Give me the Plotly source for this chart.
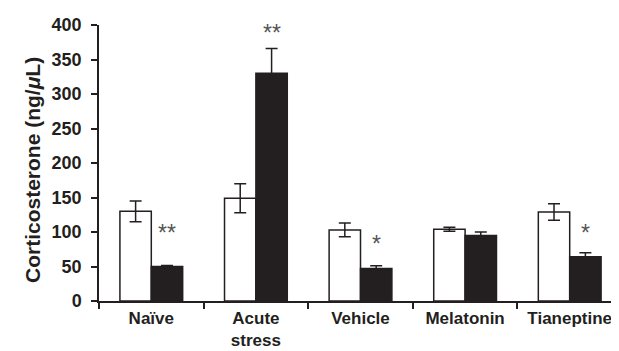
import plotly.graph_objects as go

categories = ["Naïve", "Acute<br>stress", "Vehicle", "Melatonin", "Tianeptine"]
control_vals = [130, 149, 103, 104, 129]
control_err = [15, 21, 10, 3, 12]
treated_vals = [50, 330, 47, 95, 64]
treated_err = [1.5, 36, 4, 5, 6]
sig_labels = ["**", "**", "*", "", "*"]
sig_y = [98, 388, 82, 0, 98]

FONT = "Liberation Sans, Arial, sans-serif"
INK = "#231f20"

fig = go.Figure()
fig.add_trace(go.Bar(
    x=categories, y=control_vals,
    marker=dict(color="white", line=dict(color=INK, width=1.5)),
    error_y=dict(type="data", array=control_err, visible=True, color=INK, thickness=1.5, width=6),
    showlegend=False,
))
fig.add_trace(go.Bar(
    x=categories, y=treated_vals,
    marker=dict(color=INK, line=dict(color=INK, width=1.5)),
    error_y=dict(type="data", array=treated_err, visible=True, color=INK, thickness=1.5, width=6),
    showlegend=False,
))

L, R, T, B = 91, 5, 17, 58
W, H = 619, 351
plot_w = W - L - R
cat_w = plot_w / len(categories)
bargap = 0.4
black_offset = (1 - bargap) * cat_w / 4

for c, lab, yv in zip(categories, sig_labels, sig_y):
    if lab:
        fig.add_annotation(x=c, y=yv, xref="x", yref="y", text=lab, showarrow=False,
                           xshift=black_offset, font=dict(family=FONT, size=23, color="#555555"))

fig.add_annotation(xref="paper", yref="paper", x=(24 - L) / plot_w, y=(293 - 162) / (H - T - B),
                   text="Corticosterone (ng/<i>μ</i>L)", textangle=-90, showarrow=False,
                   xanchor="center", yanchor="middle",
                   font=dict(family=FONT, size=21, color=INK, weight="bold"))

fig.update_layout(
    width=W, height=H,
    margin=dict(l=L, r=R, t=T, b=B),
    paper_bgcolor="white", plot_bgcolor="white",
    barmode="group", bargap=bargap, bargroupgap=0,
    font=dict(family=FONT, color=INK),
)
fig.update_xaxes(
    showline=True, linecolor=INK, linewidth=1.5,
    ticks="outside", tickson="boundaries", ticklen=6, tickwidth=1.5, tickcolor=INK,
    tickfont=dict(family=FONT, size=17, color=INK, weight="bold"),
    ticklabelstandoff=1,
    showgrid=False, zeroline=False,
)
fig.update_yaxes(
    range=[0, 400], dtick=50, showline=True, linecolor=INK, linewidth=1.5,
    ticks="outside", ticklen=6, tickwidth=1.5, tickcolor=INK,
    tickfont=dict(family=FONT, size=18, color=INK, weight="bold"),
    ticklabelstandoff=6,
    showgrid=False, zeroline=False,
)

fig.write_html("out.html")
